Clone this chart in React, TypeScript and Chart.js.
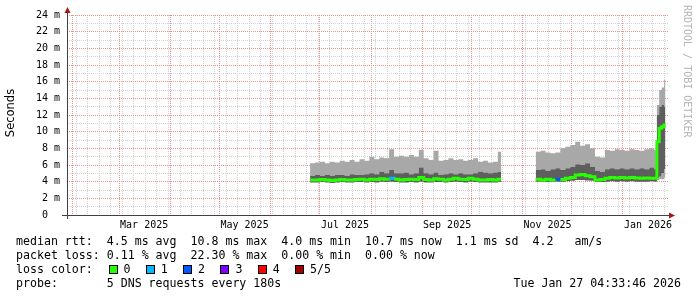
import React, { useEffect, useRef } from 'react';
import { Chart, registerables } from 'chart.js';

Chart.register(...registerables);

// ---- time axis: values are days since 2025-01-01 ----
const X_MIN = 27.36;
const X_MAX = 392.35;
const monthStarts = [31, 59, 90, 120, 151, 181, 212, 243, 273, 304, 334, 365];
const tickLabels = ['Mar 2025', 'May 2025', 'Jul 2025', 'Sep 2025', 'Nov 2025', 'Jan 2026'];
const tickLabelDays = [74.2, 135.2, 196.2, 258.2, 319.2, 380.2];
const firstMonday = 5; // 2025-01-06

// ---- segment A (late June -> mid October 2025) ----
const daysA = [175, 178, 181, 184, 187, 190, 193, 196, 199, 202, 205, 208, 211, 214, 217, 220, 223, 226, 229, 232,
  235, 238, 241, 244, 247, 250, 253, 256, 259, 262, 265, 268, 271, 274, 277, 280, 283, 286, 289, 291];
const maxA = [6.2, 6.3, 6.4, 6.2, 6.4, 6.3, 6.5, 6.4, 6.6, 6.4, 6.7, 6.5, 7.0, 6.7, 6.9, 6.8, 7.9, 7.0, 7.1, 7.0,
  7.2, 7.0, 7.8, 6.8, 6.6, 7.7, 6.5, 6.6, 6.8, 6.6, 6.7, 6.5, 6.6, 6.8, 6.4, 6.5, 6.3, 6.4, 7.6, 7.6];
const darkTopA = [4.7, 4.8, 4.7, 4.8, 4.7, 4.8, 4.8, 4.7, 4.9, 4.8, 4.8, 4.9, 5.0, 4.9, 5.2, 5.0, 5.4, 5.0, 5.0, 5.1,
  4.9, 5.0, 5.7, 5.0, 4.9, 5.1, 4.8, 4.9, 5.0, 4.9, 5.0, 4.9, 4.9, 5.0, 5.2, 5.1, 5.0, 5.1, 5.2, 5.2];
const medianA = [4.2, 4.2, 4.25, 4.2, 4.15, 4.2, 4.25, 4.2, 4.2, 4.25, 4.3, 4.2, 4.3, 4.25, 4.35, 4.3, 4.4, 4.3, 4.2, 4.25,
  4.3, 4.25, 4.5, 4.25, 4.2, 4.35, 4.3, 4.2, 4.3, 4.4, 4.3, 4.25, 4.4, 4.3, 4.2, 4.2, 4.25, 4.2, 4.3, 4.3];
const minA = [3.9, 3.9, 3.95, 3.9, 3.85, 3.9, 3.95, 3.9, 3.9, 3.95, 3.95, 3.9, 3.95, 3.9, 4.0, 3.95, 4.0, 3.95, 3.9, 3.9,
  3.95, 3.9, 4.0, 3.9, 3.9, 3.95, 3.95, 3.9, 3.95, 4.0, 3.95, 3.9, 4.0, 3.95, 3.9, 3.9, 3.9, 3.9, 3.95, 3.95];
const darkLowA = minA;
const lossA = [0, 0, 0, 0, 0, 0, 0, 0, 0, 0, 0, 0, 0, 0, 0, 0, 1, 0, 0, 0,
  0, 0, 0, 0, 0, 0, 0, 0, 0, 0, 0, 0, 0, 0, 0, 0, 0, 0, 0, 0];

// ---- segment B (November 2025 -> end of January 2026) ----
const daysB = [312, 315, 318, 321, 324, 327, 330, 333, 336, 339, 342, 345, 348, 351, 354, 357, 360, 363, 366, 369,
  372, 375, 378, 381, 384, 385.6, 387, 388.5, 390, 390.8];
const maxB = [7.6, 7.7, 7.5, 7.4, 7.5, 8.0, 8.2, 8.4, 8.8, 8.3, 8.5, 8.0, 7.0, 6.9, 7.8, 7.7, 7.9, 7.8, 7.7, 7.9,
  7.8, 7.7, 7.9, 8.0, 7.8, 13.2, 15.0, 15.3, 16.2, 16.2];
const darkTopB = [5.4, 5.5, 5.3, 5.5, 5.6, 5.4, 5.6, 5.8, 6.1, 6.0, 6.2, 5.8, 5.3, 5.2, 5.5, 5.6, 5.5, 5.6, 5.5, 5.6,
  5.5, 5.6, 5.5, 5.7, 5.5, 12.0, 13.0, 13.2, 13.0, 13.0];
const medianB = [4.3, 4.2, 4.3, 4.2, 4.3, 4.25, 4.4, 4.5, 4.8, 4.85, 4.7, 4.6, 4.2, 4.25, 4.4, 4.5, 4.45, 4.5, 4.45, 4.5,
  4.45, 4.4, 4.45, 4.4, 4.4, 8.8, 10.4, 10.6, 10.8, 10.8];
const minB = [4.0, 4.0, 3.95, 4.0, 4.0, 4.0, 4.05, 4.1, 4.2, 4.2, 4.15, 4.1, 3.95, 3.95, 4.0, 4.05, 4.0, 4.05, 4.0, 4.05,
  4.0, 4.0, 4.0, 4.05, 4.0, 4.2, 4.3, 4.3, 4.5, 4.5];
const darkLowB = [4.0, 4.0, 3.95, 4.0, 4.0, 4.0, 4.05, 4.1, 4.2, 4.2, 4.15, 4.1, 3.95, 3.95, 4.0, 4.05, 4.0, 4.05, 4.0, 4.05,
  4.0, 4.0, 4.0, 4.05, 4.0, 4.4, 4.6, 5.0, 5.5, 5.5];
const lossB = [0, 0, 0, 0, 2, 0, 0, 0, 0, 0, 0, 0, 0, 0, 0, 0, 0, 0, 0, 0,
  0, 0, 0, 0, 0, 0, 0, 0, 0, 0];

const GAP_DAY = 300;

const legendLines = [
  'median rtt:  4.5 ms avg  10.8 ms max  4.0 ms min  10.7 ms now  1.1 ms sd  4.2   am/s',
  'packet loss: 0.11 % avg  22.30 % max  0.00 % min  0.00 % now',
];
const lossLabels = ['0', '1', '2', '3', '4', '5/5'];
const lossColors = ['#26ff00', '#00b8ff', '#0059ff', '#7e00ff', '#ff0000', '#a10000'];
const probeText = 'probe:       5 DNS requests every 180s';
const stampText = 'Tue Jan 27 04:33:46 2026';

const MAJOR = '#e89292';
const MINOR = '#d2d2d2';
const MONO = "'DejaVu Sans Mono', monospace";

const allDays = [...daysA, GAP_DAY, ...daysB];
const join = (a: number[], b: number[]) => [...a, null, ...b];
const toPts = (vals: (number | null)[]) => allDays.map((d, i) => ({ x: d, y: vals[i] }));
const lossAll = join(lossA, lossB);

const weekDays: number[] = [];
for (let d = firstMonday; d < X_MAX; d += 7) if (d > X_MIN) weekDays.push(d);
const xTickValues = Array.from(new Set([...weekDays, ...monthStarts, ...tickLabelDays])).sort((a, b) => a - b);

const overlay = {
  id: 'rrdOverlay',
  afterDraw(chart: any) {
    const { ctx, chartArea: a } = chart;
    const L = Math.round(a.left) + 0.5;
    const B = Math.round(a.bottom) + 0.5;
    ctx.save();
    // axes
    ctx.strokeStyle = '#404040';
    ctx.lineWidth = 1;
    ctx.setLineDash([]);
    ctx.beginPath();
    ctx.moveTo(a.left - 5, B);
    ctx.lineTo(a.right + 2, B);
    ctx.moveTo(L, a.bottom + 4);
    ctx.lineTo(L, a.top - 3);
    ctx.stroke();
    // arrows
    ctx.fillStyle = '#9c1a1a';
    ctx.beginPath();
    ctx.moveTo(L, a.top - 8);
    ctx.lineTo(L - 3, a.top - 2);
    ctx.lineTo(L + 3, a.top - 2);
    ctx.closePath();
    ctx.fill();
    ctx.beginPath();
    ctx.moveTo(a.right + 7, B);
    ctx.lineTo(a.right + 1, B - 3);
    ctx.lineTo(a.right + 1, B + 3);
    ctx.closePath();
    ctx.fill();

    // vertical unit title
    ctx.fillStyle = '#000';
    ctx.font = `11.5px 'DejaVu Sans', sans-serif`;
    ctx.textAlign = 'center';
    ctx.textBaseline = 'middle';
    ctx.save();
    ctx.translate(11, 113);
    ctx.rotate(-Math.PI / 2);
    ctx.fillText('Seconds', 0, 0);
    ctx.restore();

    // watermark
    ctx.save();
    ctx.fillStyle = '#b4b4b4';
    ctx.font = `10px ${MONO}`;
    ctx.translate(687, 5);
    ctx.rotate(Math.PI / 2);
    ctx.textAlign = 'left';
    ctx.textBaseline = 'middle';
    ctx.fillText('RRDTOOL / TOBI OETIKER', 0, 0);
    ctx.restore();

    // legend
    ctx.font = `11.6px ${MONO}`;
    ctx.textAlign = 'left';
    ctx.textBaseline = 'middle';
    ctx.fillStyle = '#000';
    const y0 = 241.5;
    const lh = 14;
    legendLines.forEach((t, i) => ctx.fillText(t, 16, y0 + i * lh));
    const y3 = y0 + 2 * lh;
    ctx.fillText('loss color:', 16, y3);
    lossLabels.forEach((lbl, i) => {
      const bx = 108.5 + i * 37.3;
      ctx.fillStyle = lossColors[i];
      ctx.fillRect(Math.round(bx), Math.round(y3 - 5), 9, 9);
      ctx.strokeStyle = '#000';
      ctx.strokeRect(Math.round(bx) + 0.5, Math.round(y3 - 5) + 0.5, 8, 8);
      ctx.fillStyle = '#000';
      ctx.fillText(lbl, bx + 15, y3);
    });
    const y4 = y0 + 3 * lh;
    ctx.fillText(probeText, 16, y4);
    ctx.textAlign = 'right';
    ctx.fillText(stampText, 681, y4);
    ctx.restore();
  },
};

export default function App() {
  const ref = useRef<HTMLCanvasElement | null>(null);
  useEffect(() => {
    if (!ref.current) return;
    const lineBase = {
      stepped: 'before' as const,
      pointRadius: 0,
      borderWidth: 0,
      borderColor: 'rgba(0,0,0,0)',
      spanGaps: false,
    };
    const chart = new Chart(ref.current, {
      type: 'line',
      data: {
        datasets: [
          { ...lineBase, label: 'min', data: toPts(join(minA, minB)), fill: false },
          { ...lineBase, label: 'darkLow', data: toPts(join(darkLowA, darkLowB)), fill: '-1', backgroundColor: '#a8a8a8' },
          { ...lineBase, label: 'darkTop', data: toPts(join(darkTopA, darkTopB)), fill: '-1', backgroundColor: '#5e5e5e' },
          { ...lineBase, label: 'max', data: toPts(join(maxA, maxB)), fill: '-1', backgroundColor: '#a8a8a8' },
          {
            label: 'median',
            data: toPts(join(medianA, medianB)),
            stepped: 'before',
            pointRadius: 0,
            borderWidth: 3,
            borderColor: lossColors[0],
            fill: false,
            spanGaps: false,
            order: -1,
            borderCapStyle: 'butt',
            borderJoinStyle: 'miter',
            segment: {
              borderColor: (c: any) => lossColors[(lossAll[c.p0DataIndex] as number) || 0],
            },
          } as any,
        ],
      },
      options: {
        animation: false,
        responsive: false,
        devicePixelRatio: 1,
        events: [],
        layout: { padding: { top: 15, right: 29, left: 0, bottom: 0 } },
        plugins: { legend: { display: false }, tooltip: { enabled: false }, title: { display: false } },
        scales: {
          x: {
            type: 'linear',
            min: X_MIN,
            max: X_MAX,
            afterFit: (s: any) => { s.height = 82; },
            afterBuildTicks: (s: any) => { s.ticks = xTickValues.map((v) => ({ value: v })); },
            ticks: {
              autoSkip: false,
              maxRotation: 0,
              minRotation: 0,
              padding: 4,
              color: '#000',
              font: { family: MONO, size: 10 },
              callback: (v: any) => {
                const i = tickLabelDays.indexOf(Number(v));
                return i >= 0 ? tickLabels[i] : '';
              },
            },
            grid: {
              drawTicks: false,
              lineWidth: 1,
              color: (c: any) => {
                const v = c.tick ? c.tick.value : null;
                if (v === null) return 'rgba(0,0,0,0)';
                if (monthStarts.includes(v)) return MAJOR;
                if (tickLabelDays.includes(v)) return 'rgba(0,0,0,0)';
                return MINOR;
              },
            },
            border: { display: false, dash: [1, 1] },
          },
          y: {
            type: 'linear',
            min: 0,
            max: 24,
            afterFit: (s: any) => { s.width = 67; },
            ticks: {
              stepSize: 1,
              autoSkip: false,
              padding: 7,
              color: '#000',
              font: { family: MONO, size: 10 },
              callback: (v: any) => {
                const n = Number(v);
                if (n % 2 !== 0) return '';
                return n === 0 ? '0  ' : `${n} m`;
              },
            },
            grid: {
              drawTicks: false,
              lineWidth: 1,
              color: (c: any) => {
                const v = c.tick ? c.tick.value : null;
                if (v === null || v === 0) return 'rgba(0,0,0,0)';
                return v % 2 === 0 ? MAJOR : MINOR;
              },
            },
            border: { display: false, dash: [1, 1] },
          },
        },
      } as any,
      plugins: [overlay],
    });
    return () => chart.destroy();
  }, []);
  return (
    <div style={{ position: 'absolute', left: 0, top: 0, width: 697, height: 297, background: '#fff' }}>
      <canvas ref={ref} width={697} height={297} style={{ display: 'block' }} />
    </div>
  );
}
